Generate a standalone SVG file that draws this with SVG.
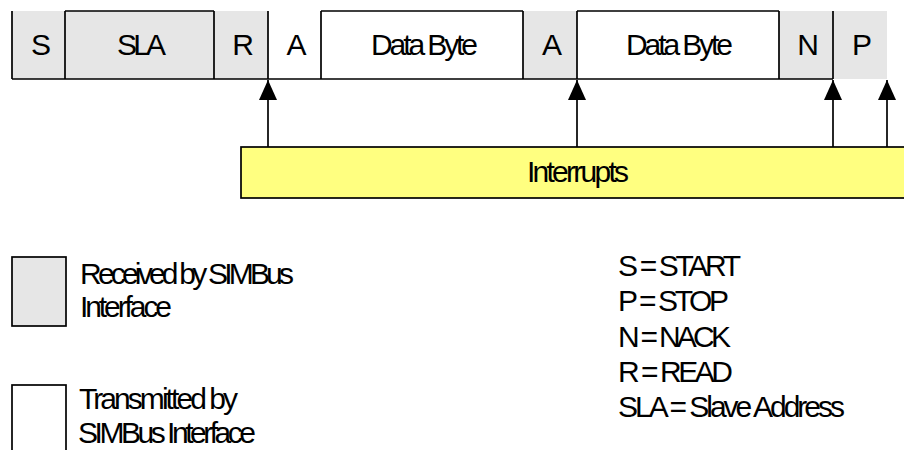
<svg xmlns="http://www.w3.org/2000/svg" width="904" height="450" viewBox="0 0 904 450">
<style>
text{font-family:"Liberation Sans",Arial,sans-serif;font-size:30px;fill:#000}
.m{text-anchor:middle}
.ln{stroke:#000;stroke-width:1.7;fill:none}
.rx{fill:#e6e6e6}
</style>
<defs>
<marker id="ah" markerUnits="userSpaceOnUse" viewBox="0 -10 22 20" markerWidth="22" markerHeight="20" refX="20" refY="0" orient="auto">
<path d="M0,-9 L20,0 L0,9 z" fill="#000"/>
</marker>
</defs>
<rect width="904" height="450" fill="#fff"/>
<g id="frame">
<rect class="rx" x="12" y="11" width="256" height="68"/>
<rect class="rx" x="523" y="11" width="54" height="68"/>
<rect class="rx" x="779" y="11" width="108" height="68"/>
<path class="ln" d="M12,79 H833 M65,11 H214 M321,11 H523 M577,11 H779 M12,11 V79 M65,11 V79 M214,11 V79 M268,11 V79 M321,11 V79 M523,11 V79 M577,11 V79 M779,11 V79 M833,11 V79"/>
</g>
<g id="S"><text class="m" x="41" y="54.5">S</text></g>
<g id="SLA"><text x="117" y="54.5" textLength="49" lengthAdjust="spacing">SLA</text></g>
<g id="R"><text class="m" x="243" y="54.5">R</text></g>
<g id="A1"><text class="m" x="296.5" y="54.5">A</text></g>
<g id="DB1"><text x="371" y="54.5" textLength="107" lengthAdjust="spacing">Data Byte</text></g>
<g id="A2"><text class="m" x="552" y="54.5">A</text></g>
<g id="DB2"><text x="626" y="54.5" textLength="107" lengthAdjust="spacing">Data Byte</text></g>
<g id="N"><text class="m" x="808" y="54.5">N</text></g>
<g id="P"><text class="m" x="862" y="54.5">P</text></g>
<g id="interrupts">
<rect x="241" y="147" width="700" height="51" fill="#ffff80" stroke="#000" stroke-width="1.7"/>
<text x="527" y="182" textLength="102" lengthAdjust="spacing">Interrupts</text>
</g>
<g id="connectors">
<line class="ln" x1="268" y1="147" x2="268" y2="80" marker-end="url(#ah)"/>
<line class="ln" x1="577" y1="147" x2="577" y2="80" marker-end="url(#ah)"/>
<line class="ln" x1="833" y1="147" x2="833" y2="80" marker-end="url(#ah)"/>
<line class="ln" x1="887" y1="147" x2="887" y2="80" marker-end="url(#ah)"/>
</g>
<g id="legend-received">
<rect x="12" y="257" width="54" height="69" fill="#e6e6e6" stroke="#000" stroke-width="1.7"/>
<text x="80" y="284" textLength="214" lengthAdjust="spacing">Received by SIMBus</text>
<text x="80" y="317" textLength="92" lengthAdjust="spacing">Interface</text>
</g>
<g id="legend-transmitted">
<rect x="12" y="385" width="54" height="75" fill="#fff" stroke="#000" stroke-width="1.7"/>
<text x="79" y="409" textLength="159" lengthAdjust="spacing">Transmitted by</text>
<text x="78" y="443" textLength="178" lengthAdjust="spacing">SIMBus Interface</text>
</g>
<g id="abbrev">
<text x="618" y="276" textLength="123" lengthAdjust="spacing">S = START</text>
<text x="618" y="311" textLength="111" lengthAdjust="spacing">P = STOP</text>
<text x="618" y="346.5" textLength="113" lengthAdjust="spacing">N = NACK</text>
<text x="618" y="382" textLength="115" lengthAdjust="spacing">R = READ</text>
<text x="618" y="417" textLength="227" lengthAdjust="spacing">SLA = Slave Address</text>
</g>
</svg>
